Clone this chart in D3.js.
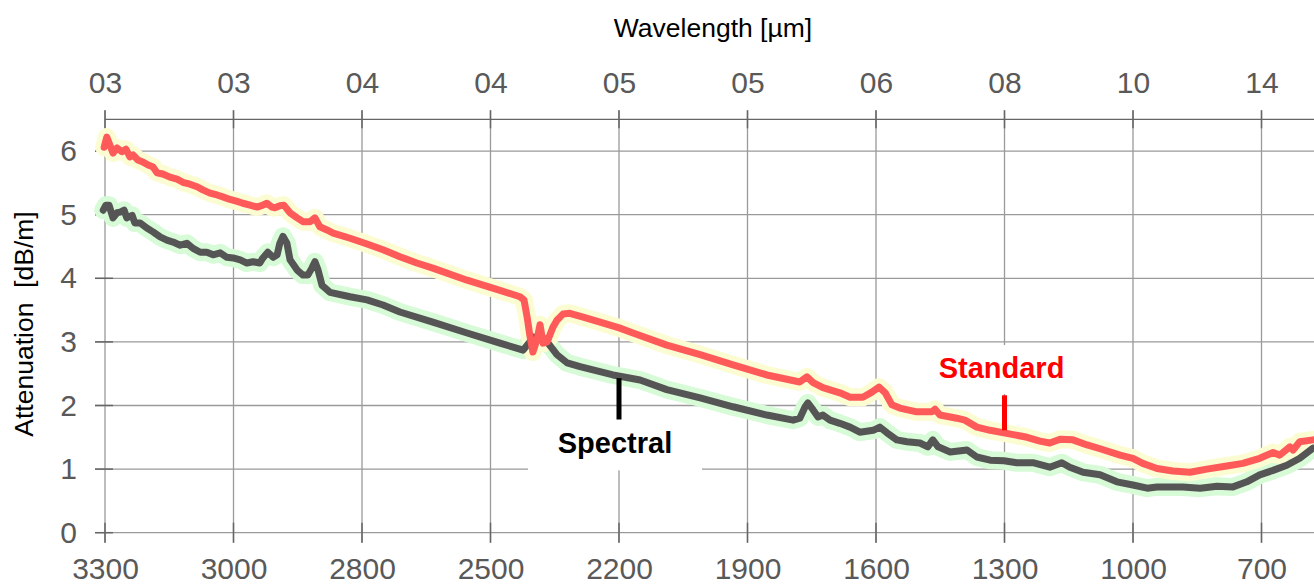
<!DOCTYPE html>
<html>
<head>
<meta charset="utf-8">
<script src="https://cdn.jsdelivr.net/npm/d3@7"></script>
<style>
  body { margin: 0; background: #fff; }
  svg { display: block; font-family: "Liberation Sans", Arial, sans-serif; }
</style>
</head>
<body>
<svg id="chart" width="1314" height="585"></svg>
<script>
// Bottom axis labels (wavenumber) and top axis labels (wavelength)
let bottomLabels = ['3300', '3000', '2800', '2500', '2200', '1900', '1600', '1300', '1000', '700'];
let topLabels = ['03', '03', '04', '04', '05', '05', '06', '08', '10', '14'];
let yTicks = [0, 1, 2, 3, 4, 5, 6];

// Standard fiber
let stdWn = [3302, 3296, 3282, 3273, 3262, 3253, 3244, 3237, 3226, 3215, 3203, 3192, 3183, 3170, 3154, 3138,
  3125, 3109, 3093, 3080, 3064, 3048, 3035, 3019, 3003, 2990, 2974, 2958, 2945, 2936, 2925, 2918, 2907, 2898,
  2884, 2868, 2855, 2839, 2828, 2817, 2801, 2787, 2749, 2711, 2675, 2637, 2599, 2563, 2486, 2412, 2367, 2358,
  2351, 2345, 2338, 2329, 2322, 2315, 2306, 2293, 2284, 2270, 2255, 2225, 2187, 2144, 2113, 2037, 1962, 1888,
  1812, 1738, 1722, 1708, 1686, 1648, 1625, 1596, 1576, 1560, 1546, 1531, 1513, 1475, 1441, 1434, 1423, 1385,
  1367, 1340, 1310, 1279, 1227, 1198, 1176, 1153, 1124, 1092, 1063, 1018, 989, 967, 935, 899, 861, 823, 778,
  742, 704, 674, 659, 636, 629, 614, 584];
let stdAtt = [6.06, 6.22, 5.97, 6.05, 5.99, 6.03, 5.91, 5.94, 5.86, 5.83, 5.78, 5.75, 5.66, 5.64, 5.59, 5.56,
  5.51, 5.48, 5.44, 5.39, 5.34, 5.31, 5.28, 5.24, 5.21, 5.18, 5.15, 5.12, 5.15, 5.18, 5.12, 5.11, 5.14, 5.15,
  5.03, 4.95, 4.89, 4.89, 4.95, 4.81, 4.76, 4.71, 4.63, 4.54, 4.45, 4.34, 4.24, 4.16, 3.97, 3.81, 3.71, 3.66,
  3.39, 3.11, 2.84, 3.03, 3.27, 2.98, 3.00, 3.23, 3.34, 3.44, 3.45, 3.39, 3.31, 3.22, 3.14, 2.95, 2.80, 2.64,
  2.48, 2.37, 2.45, 2.36, 2.28, 2.20, 2.13, 2.13, 2.21, 2.29, 2.20, 2.01, 1.96, 1.90, 1.90, 1.94, 1.85, 1.80,
  1.77, 1.66, 1.61, 1.57, 1.50, 1.44, 1.41, 1.47, 1.46, 1.38, 1.32, 1.22, 1.17, 1.09, 1.01, 0.97, 0.95, 1.00, 1.05,
  1.09, 1.17, 1.26, 1.22, 1.35, 1.30, 1.43, 1.46];

// Spectral fiber
let specWn = [3304, 3298, 3291, 3282, 3273, 3266, 3257, 3251, 3239, 3233, 3221, 3206, 3192, 3176, 3161, 3147,
  3131, 3116, 3102, 3086, 3071, 3057, 3041, 3026, 3012, 2996, 2981, 2967, 2952, 2945, 2934, 2922, 2913, 2907,
  2900, 2891, 2884, 2868, 2855, 2844, 2835, 2828, 2821, 2812, 2794, 2749, 2711, 2675, 2637, 2563, 2486, 2412,
  2360, 2345, 2338, 2327, 2315, 2306, 2284, 2261, 2232, 2158, 2097, 2037, 1962, 1888, 1812, 1753, 1738, 1726,
  1720, 1708, 1697, 1686, 1670, 1648, 1625, 1603, 1573, 1558, 1542, 1520, 1497, 1468, 1450, 1439, 1427, 1400,
  1362, 1340, 1310, 1279, 1250, 1214, 1176, 1149, 1131, 1101, 1063, 1025, 989, 957, 935, 913, 877, 838, 800,
  764, 733, 704, 674, 643, 614, 584];
let specAtt = [5.07, 5.15, 5.15, 4.95, 5.03, 5.04, 5.07, 4.95, 4.99, 4.87, 4.87, 4.79, 4.73, 4.65, 4.60, 4.57,
  4.52, 4.55, 4.47, 4.41, 4.41, 4.37, 4.40, 4.33, 4.32, 4.29, 4.24, 4.26, 4.24, 4.32, 4.41, 4.33, 4.37, 4.55,
  4.66, 4.55, 4.29, 4.13, 4.05, 4.05, 4.16, 4.26, 4.13, 3.89, 3.78, 3.71, 3.66, 3.58, 3.47, 3.31, 3.14, 2.98,
  2.87, 3.00, 3.08, 3.03, 3.06, 3.00, 2.80, 2.67, 2.61, 2.48, 2.40, 2.25, 2.12, 1.98, 1.85, 1.77, 1.80, 1.98,
  2.04, 1.93, 1.82, 1.85, 1.77, 1.72, 1.66, 1.58, 1.61, 1.66, 1.57, 1.46, 1.43, 1.41, 1.35, 1.46, 1.35, 1.27,
  1.30, 1.19, 1.14, 1.13, 1.10, 1.10, 1.03, 1.10, 1.03, 0.95, 0.91, 0.80, 0.75, 0.70, 0.72, 0.72, 0.72, 0.70, 0.73,
  0.72, 0.80, 0.91, 0.98, 1.06, 1.17, 1.33];

let svg = d3.select("#chart");
let W = 1314;
let plotLeft = 105, plotTop = 119.3, plotBottom = 532.7;

// ticks are evenly spaced on the axis
let tickVals = d3.range(bottomLabels.length).map(i => 3300 - i * 2600 / 9);

let x = d3.scaleLinear().domain([3300, 700]).range([plotLeft, 1261.5]);
let y = d3.scaleLinear().domain([0, 6.5]).range([plotBottom, plotTop]);

let gridColor = "#9a9a9a", tickColor = "#666", labelColor = "#595959";

// grid
let grid = svg.append("g");
grid.selectAll(".hgrid")
  .data(yTicks)
  .join("line")
    .attr("x1", plotLeft - 10).attr("x2", W)
    .attr("y1", d => y(d)).attr("y2", d => y(d))
    .attr("stroke", gridColor).attr("stroke-width", 1.3);
grid.selectAll(".vgrid")
  .data(tickVals)
  .join("line")
    .attr("x1", d => x(d)).attr("x2", d => x(d))
    .attr("y1", plotTop - 9).attr("y2", plotBottom + 10)
    .attr("stroke", gridColor).attr("stroke-width", 1.3);

// top axis line
svg.append("line")
  .attr("x1", plotLeft).attr("x2", W).attr("y1", plotTop).attr("y2", plotTop)
  .attr("stroke", tickColor).attr("stroke-width", 1.3);

// axes
let axisTop = d3.axisTop(x).tickValues(tickVals).tickFormat((d, i) => topLabels[i]).tickSize(0).tickPadding(26);
let axisBottom = d3.axisBottom(x).tickValues(tickVals).tickFormat((d, i) => bottomLabels[i]).tickSize(0).tickPadding(25);
let axisLeft = d3.axisLeft(y).tickValues(yTicks).tickFormat(d3.format("d")).tickSize(0).tickPadding(28);

function styleAxis(g) {
  g.select(".domain").remove();
  g.selectAll("text").attr("fill", labelColor).style("font-size", "30px");
}
svg.append("g").attr("transform", `translate(0,${plotTop})`).call(axisTop).call(styleAxis);
svg.append("g").attr("transform", `translate(0,${plotBottom})`).call(axisBottom).call(styleAxis);
svg.append("g").attr("transform", `translate(${plotLeft},0)`).call(axisLeft).call(styleAxis);

// short darker tick marks
let ticks = svg.append("g").attr("stroke", tickColor).attr("stroke-width", 1.5);
ticks.selectAll(".tt").data(tickVals).join("line")
  .attr("x1", d => x(d)).attr("x2", d => x(d)).attr("y1", plotTop - 9).attr("y2", plotTop + 9);
ticks.selectAll(".tb").data(tickVals).join("line")
  .attr("x1", d => x(d)).attr("x2", d => x(d)).attr("y1", plotBottom - 10).attr("y2", plotBottom + 10);
ticks.selectAll(".tl").data(yTicks).join("line")
  .attr("x1", plotLeft - 10).attr("x2", plotLeft + 8).attr("y1", d => y(d)).attr("y2", d => y(d));

// axis titles
svg.append("text")
  .attr("x", 713).attr("y", 37)
  .attr("text-anchor", "middle")
  .style("font-size", "26.5px")
  .text("Wavelength [µm]");
svg.append("text")
  .attr("transform", "translate(33,324) rotate(-90)")
  .attr("text-anchor", "middle")
  .style("font-size", "26.5px")
  .style("white-space", "pre")
  .text("Attenuation  [dB/m]");

// annotation boxes
svg.append("rect")
  .attr("x", x(tickVals[4]) - 91).attr("y", y(1.89)).attr("width", 174).attr("height", y(0.98) - y(1.89))
  .attr("fill", "#fff");
svg.append("rect")
  .attr("x", x(tickVals[7]) - 69).attr("y", y(2.95)).attr("width", 132).attr("height", y(2.18) - y(2.95))
  .attr("fill", "#fff");

// lines with a pale halo underneath
let series = [
  {wn: specWn, att: specAtt, color: "#555555", halo: "#d6fbd6"},
  {wn: stdWn, att: stdAtt, color: "#ff5a5a", halo: "#fcfcd2"}
];
let line = d3.line()
  .x(d => x(d[0]))
  .y(d => y(d[1]));

svg.append("clipPath").attr("id", "clip")
  .append("rect").attr("x", 0).attr("y", plotTop).attr("width", W).attr("height", plotBottom - plotTop);

let plot = svg.append("g").attr("clip-path", "url(#clip)");
series.forEach(s => {
  let pts = d3.zip(s.wn, s.att);
  plot.append("path").datum(pts)
    .attr("d", line)
    .attr("fill", "none").attr("stroke", s.halo).attr("stroke-width", 18)
    .attr("stroke-linejoin", "round").attr("stroke-linecap", "round");
});
series.forEach(s => {
  let pts = d3.zip(s.wn, s.att);
  plot.append("path").datum(pts)
    .attr("d", line)
    .attr("fill", "none").attr("stroke", s.color).attr("stroke-width", 7)
    .attr("stroke-linejoin", "round").attr("stroke-linecap", "round");
});

// labels
svg.append("line")
  .attr("x1", x(tickVals[4])).attr("x2", x(tickVals[4]))
  .attr("y1", y(2.43)).attr("y2", y(1.78))
  .attr("stroke", "#000").attr("stroke-width", 5);
svg.append("text")
  .attr("x", x(tickVals[4]) - 4).attr("y", 453)
  .attr("text-anchor", "middle")
  .style("font-size", "29px").style("font-weight", "bold")
  .text("Spectral");

svg.append("line")
  .attr("x1", x(tickVals[7])).attr("x2", x(tickVals[7]))
  .attr("y1", y(2.16)).attr("y2", y(1.61))
  .attr("stroke", "#ff0000").attr("stroke-width", 5);
svg.append("text")
  .attr("x", x(tickVals[7]) - 3).attr("y", 378)
  .attr("text-anchor", "middle")
  .attr("fill", "#ff0000")
  .style("font-size", "29px").style("font-weight", "bold")
  .text("Standard");
</script>
</body>
</html>
